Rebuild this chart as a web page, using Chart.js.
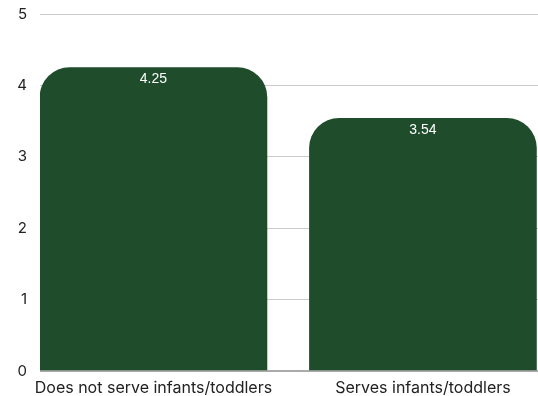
<!DOCTYPE html>
<html lang="en">
<head>
  <meta charset="UTF-8" />
  <title>Infants/toddlers</title>
  <style>
    * { margin: 0; padding: 0; box-sizing: border-box; }
    body { background: #fff; width: 538px; height: 396px; overflow: hidden; }
    #wrap { width: 538px; height: 404px; margin-top: -8px; }
  </style>
</head>
<body>
  <div id="wrap"><canvas id="chart"></canvas></div>
  <script src="https://cdn.jsdelivr.net/npm/chart.js"></script>
  <script>
const categories = ['Does not serve infants/toddlers', 'Serves infants/toddlers'];
const values = [4.25, 3.54];
const yTicks = [0, 1, 2, 3, 4, 5];

const green = '#1f4d2c';

// white value label just under the top of each bar
const valueLabels = {
  id: 'valueLabels',
  afterDatasetsDraw(chart) {
    const ctx = chart.ctx;
    const meta = chart.getDatasetMeta(0);
    ctx.save();
    ctx.fillStyle = '#ffffff';
    ctx.font = '14px "Liberation Sans", Arial, sans-serif';
    ctx.textAlign = 'center';
    ctx.textBaseline = 'top';
    meta.data.forEach((bar, i) => {
      ctx.fillText(values[i].toFixed(2), bar.x, bar.y + 5);
    });
    ctx.restore();
  }
};

new Chart(document.getElementById('chart'), {
  type: 'bar',
  data: {
    datasets: [{
      data: values.map((v, i) => ({ x: i, y: v })),
      backgroundColor: green,
      barThickness: 227,
      borderRadius: { topLeft: 30, topRight: 30, bottomLeft: 0, bottomRight: 0 },
      borderSkipped: 'bottom'
    }]
  },
  options: {
    responsive: true,
    maintainAspectRatio: false,
    animation: false,
    layout: { padding: { top: 6, right: 0, left: 0, bottom: 0 } },
    plugins: { legend: { display: false }, tooltip: { enabled: false } },
    scales: {
      x: {
        type: 'linear',
        offset: false,
        min: -0.421,
        max: 1.427,
        grid: { display: false },
        border: { display: false },
        afterBuildTicks: axis => { axis.ticks = [{ value: 0 }, { value: 1 }]; },
        afterFit: axis => { axis.height = 25; },
        ticks: {
          padding: 0,
          maxRotation: 0,
          autoSkip: false,
          color: '#222',
          font: { family: 'Inter, sans-serif', size: 16 },
          callback: v => categories[v]
        }
      },
      y: {
        min: 0,
        max: 5,
        afterBuildTicks: axis => { axis.ticks = yTicks.map(v => ({ value: v })); },
        afterFit: axis => { axis.width = 40; },
        border: { display: false },
        grid: {
          drawTicks: false,
          color: ctx => ctx.tick && ctx.tick.value === 0 ? '#aaaaaa' : '#cccccc',
          lineWidth: ctx => ctx.tick && ctx.tick.value === 0 ? 2 : 1
        },
        ticks: {
          padding: 13,
          color: '#222',
          font: { family: 'Inter, sans-serif', size: 15 }
        }
      }
    }
  },
  plugins: [valueLabels]
});
  </script>
</body>
</html>
